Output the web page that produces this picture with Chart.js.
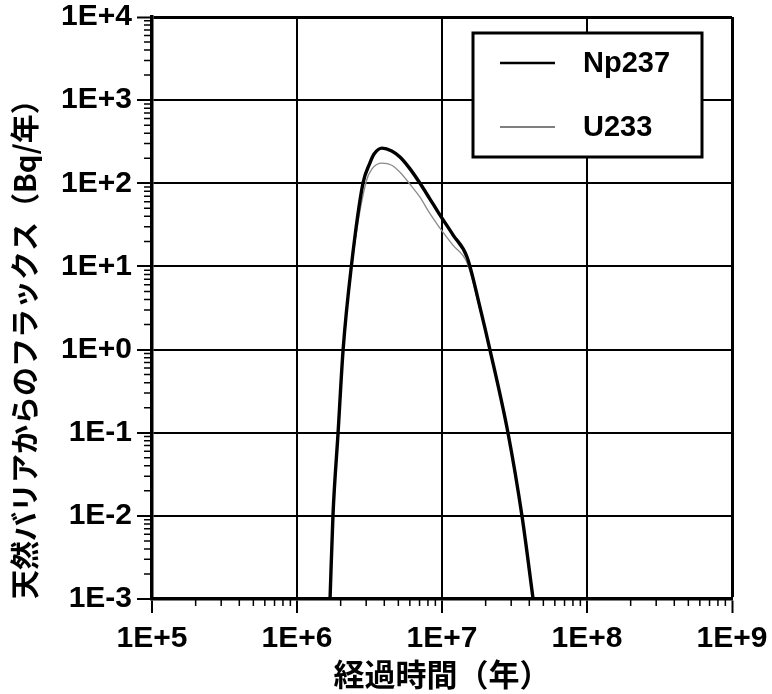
<!DOCTYPE html>
<html>
<head>
<meta charset="utf-8">
<script src="https://cdn.jsdelivr.net/npm/chart.js@4.4.1/dist/chart.umd.min.js"></script>
<style>
  body { margin: 0; background: #fff; }
</style>
</head>
<body>
<canvas id="chart" width="772" height="694"></canvas>
<script>
const xTicks = [1e5, 1e6, 1e7, 1e8, 1e9];
const yTicks = [1e-3, 1e-2, 1e-1, 1e0, 1e1, 1e2, 1e3, 1e4];

const np237Time = [1.69e6, 1.77e6, 1.92e6, 2.08e6, 2.37e6, 2.85e6, 3.18e6, 3.4e6, 3.86e6, 4.5e6, 5.13e6, 6.0e6, 7.05e6, 8.2e6, 9.4e6, 1.19e7, 1.49e7, 1.83e7, 2.14e7, 2.85e7, 3.56e7, 4.25e7];
const np237Flux = [1e-3, 1e-2, 0.1, 1, 10, 100, 175, 225, 265, 245, 207, 150, 100, 66, 45, 24, 12.9, 3.2, 1, 0.1, 0.01, 1e-3];

const u233Time = [1.69e6, 1.77e6, 1.92e6, 2.08e6, 2.38e6, 3.0e6, 3.3e6, 3.86e6, 4.5e6, 5.13e6, 6.0e6, 7.05e6, 8.2e6, 9.4e6, 1.19e7, 1.49e7, 1.83e7, 2.14e7, 2.85e7, 3.56e7, 4.22e7];
const u233Flux = [1e-3, 1e-2, 0.1, 1, 10, 105, 150, 175, 165, 136, 98, 68, 44, 31, 18, 11, 3.0, 0.95, 0.095, 0.0095, 1e-3];

const toPoints = (xs, ys) => xs.map((x, i) => ({ x: x, y: ys[i] }));

const expLabel = (v) => {
  const e = Math.round(Math.log10(v));
  return "1E" + (e >= 0 ? "+" : "") + e;
};

const tickFont = { family: "Liberation Sans", weight: "bold", size: 30 };

// short ticks at 2..9 of every decade
const minorTicks = {
  id: "minorTicks",
  afterDraw(chart) {
    const { ctx, chartArea, scales } = chart;
    ctx.save();
    ctx.strokeStyle = "#000";
    ctx.lineWidth = 1.5;
    ctx.beginPath();
    for (let i = 0; i < xTicks.length - 1; i++) {
      for (let k = 2; k <= 9; k++) {
        const px = scales.x.getPixelForValue(xTicks[i] * k);
        ctx.moveTo(px, chartArea.bottom);
        ctx.lineTo(px, chartArea.bottom + 7);
      }
    }
    for (let i = 0; i < yTicks.length - 1; i++) {
      for (let k = 2; k <= 9; k++) {
        const py = scales.y.getPixelForValue(yTicks[i] * k);
        ctx.moveTo(chartArea.left - 8, py);
        ctx.lineTo(chartArea.left, py);
      }
    }
    ctx.stroke();
    ctx.restore();
  },
};

const legendBox = {
  id: "legendBox",
  afterDraw(chart) {
    const { ctx, chartArea } = chart;
    const x = chartArea.right - 259;
    const y = chartArea.top + 16;
    ctx.save();
    ctx.fillStyle = "#fff";
    ctx.fillRect(x, y, 229, 124);
    ctx.strokeStyle = "#000";
    ctx.lineWidth = 3;
    ctx.strokeRect(x, y, 229, 124);
    ctx.font = "bold 29px 'Liberation Sans'";
    ctx.textBaseline = "middle";
    ctx.fillStyle = "#000";
    const rows = [30, 94];
    const widths = [2.5, 1.2];
    chart.data.datasets.forEach((ds, i) => {
      ctx.beginPath();
      ctx.lineWidth = widths[i];
      ctx.moveTo(x + 27, y + rows[i]);
      ctx.lineTo(x + 82, y + rows[i]);
      ctx.stroke();
      ctx.fillText(ds.label, x + 110, y + rows[i] + 1);
    });
    ctx.restore();
  },
};

const config = {
  type: "line",
  data: {
    datasets: [
      {
        label: "Np237",
        data: toPoints(np237Time, np237Flux),
        borderColor: "#000",
        borderWidth: 3.4,
        pointRadius: 0,
        cubicInterpolationMode: "monotone",
      },
      {
        label: "U233",
        data: toPoints(u233Time, u233Flux),
        borderColor: "#8a8a8a",
        borderWidth: 1.3,
        pointRadius: 0,
        cubicInterpolationMode: "monotone",
      },
    ],
  },
  options: {
    responsive: false,
    animation: false,
    layout: { padding: { top: 17, right: 40, left: 0, bottom: 0 } },
    plugins: {
      legend: { display: false },
      tooltip: { enabled: false },
    },
    scales: {
      x: {
        type: "logarithmic",
        min: 1e5,
        max: 1e9,
        afterBuildTicks: (scale) => {
          scale.ticks = xTicks.map((v) => ({ value: v }));
        },
        afterFit: (scale) => {
          scale.height = 95;
          scale.paddingLeft = 0;
          scale.paddingRight = 0;
        },
        ticks: {
          autoSkip: false,
          maxRotation: 0,
          padding: 8,
          color: "#000",
          font: tickFont,
          callback: (v) => expLabel(v),
        },
        grid: {
          color: "#000",
          lineWidth: (c) => (c.index === xTicks.length - 1 ? 3 : 2),
          tickLength: 14,
          tickWidth: 2,
          tickColor: "#000",
        },
        border: { color: "#000", width: 3.5 },
        title: {
          display: true,
          text: "経過時間（年）",
          color: "#000",
          font: { family: "Noto Sans CJK JP", weight: "bold", size: 31 },
          padding: { top: 0, bottom: 1 },
        },
      },
      y: {
        type: "logarithmic",
        min: 1e-3,
        max: 1e4,
        afterBuildTicks: (scale) => {
          scale.ticks = yTicks.map((v) => ({ value: v }));
        },
        afterFit: (scale) => {
          scale.width = 152;
          scale.paddingTop = 0;
          scale.paddingBottom = 0;
        },
        ticks: {
          autoSkip: false,
          padding: 5,
          color: "#000",
          font: tickFont,
          callback: (v) => expLabel(v),
        },
        grid: {
          color: "#000",
          lineWidth: (c) => (c.index === yTicks.length - 1 ? 3 : 2),
          tickLength: 15,
          tickWidth: 2,
          tickColor: "#000",
        },
        border: { color: "#000", width: 3.5 },
        title: {
          display: true,
          text: "天然バリアからのフラックス（Bq/年）",
          align: "start",
          color: "#000",
          font: { family: "Noto Sans CJK JP", weight: "bold", size: 29 },
          padding: { top: 8, bottom: 0 },
        },
      },
    },
  },
  plugins: [minorTicks, legendBox],
};

const fluxChart = new Chart(document.getElementById("chart"), config);
</script>
</body>
</html>
